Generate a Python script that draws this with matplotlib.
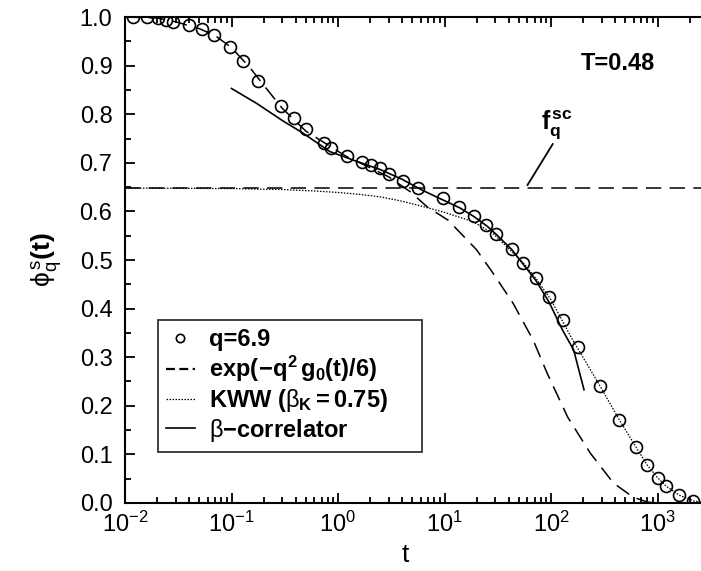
import matplotlib
matplotlib.use("Agg")
import matplotlib.pyplot as plt
from matplotlib.lines import Line2D
from matplotlib.ticker import LogLocator, MultipleLocator, NullFormatter

plt.rcParams["font.family"] = ["Liberation Sans", "DejaVu Sans"]
plt.rcParams["mathtext.fontset"] = "custom"
plt.rcParams["mathtext.rm"] = "Liberation Sans"
plt.rcParams["mathtext.it"] = "Liberation Sans:italic"
plt.rcParams["mathtext.bf"] = "Liberation Sans:bold"

# simulation points, q=6.9
t_sim = [0.012, 0.0162, 0.0203, 0.0243, 0.0284, 0.040, 0.0525, 0.0685, 0.097, 0.129,
         0.179, 0.290, 0.389, 0.501, 0.743, 0.86, 1.21, 1.67, 2.05, 2.48, 3.03, 4.10,
         5.67, 9.6, 13.8, 19.0, 24.5, 30.5, 42.8, 54.2, 72.3, 96.4, 130.5, 178, 288,
         438, 624, 802, 1004, 1194, 1603, 2168]
phi_sim = [1.0, 1.0, 0.997, 0.994, 0.990, 0.984, 0.975, 0.963, 0.938, 0.909,
           0.868, 0.817, 0.793, 0.769, 0.741, 0.731, 0.714, 0.702, 0.695, 0.689, 0.678, 0.663,
           0.648, 0.627, 0.610, 0.591, 0.572, 0.553, 0.522, 0.494, 0.462, 0.424, 0.377, 0.320, 0.241,
           0.171, 0.116, 0.078, 0.052, 0.035, 0.016, 0.004]

# gaussian approximation exp(-q^2 g0(t)/6)
t_gauss = [0.01, 0.02, 0.03, 0.05, 0.07, 0.1, 0.15, 0.2, 0.3, 0.5, 0.8, 1.2, 2.0, 3.0,
           4.8, 6.9, 10.8, 20, 28.5, 44, 68, 92, 143, 233, 385, 590, 800, 1000]
phi_gauss = [1.0, 0.998, 0.99, 0.976, 0.962, 0.937, 0.895, 0.860, 0.812, 0.765, 0.737, 0.713, 0.690, 0.671,
             0.640, 0.609, 0.582, 0.521, 0.473, 0.411, 0.335, 0.267, 0.177, 0.103, 0.041, 0.012, 0.002, 0.0]

# KWW fit, beta_K = 0.75
t_kww = [0.01, 0.1, 0.3, 0.6, 1.0, 1.6, 2.5, 4.0, 6.3, 10, 18.5, 28, 38.5, 55, 74, 100,
         160, 288, 438, 624, 800, 1000, 1200, 1600, 2200, 2560]
phi_kww = [0.648, 0.647, 0.645, 0.642, 0.639, 0.635, 0.630, 0.621, 0.610, 0.598, 0.579, 0.556, 0.527, 0.494, 0.459, 0.418,
           0.335, 0.241, 0.171, 0.116, 0.078, 0.052, 0.035, 0.016, 0.004, 0.002]

# beta-correlator
t_beta = [0.1, 0.173, 0.3, 0.47, 0.84, 1.5, 2.5, 4, 6, 10, 14, 19, 25, 30.5, 43, 54, 72, 96, 128, 163, 204]
phi_beta = [0.853, 0.822, 0.787, 0.761, 0.723, 0.703, 0.686, 0.666, 0.645, 0.622, 0.607, 0.589, 0.570, 0.553,
            0.521, 0.493, 0.458, 0.413, 0.356, 0.315, 0.233]

fq_sc = 0.648

x_ticks = [1e-2, 1e-1, 1e0, 1e1, 1e2, 1e3]
x_tick_labels = [r"$10^{-2}$", r"$10^{-1}$", r"$10^{0}$", r"$10^{1}$", r"$10^{2}$", r"$10^{3}$"]

fig = plt.figure(figsize=(7.01, 5.71), dpi=100)
ax = fig.add_axes([0.1783, 0.1191, 0.8217, 0.8511])

ax.axhline(fq_sc, color="black", lw=1.1, dashes=(10, 5.5))
ax.plot(t_gauss, phi_gauss, color="black", lw=1.1, dashes=(10, 5.5))
ax.plot(t_kww, phi_kww, color="black", lw=0.9, dashes=(1.2, 1.2))
ax.plot(t_beta, phi_beta, color="black", lw=1.2)
ax.plot(t_sim, phi_sim, "o", color="black", mfc="none", ms=8.6, mew=1.2)

ax.set_xscale("log")
ax.set_xlim(1e-2, 2558)
ax.set_ylim(0.0, 1.0)
ax.set_xticks(x_ticks)
ax.set_xticklabels(x_tick_labels)
ax.xaxis.set_minor_locator(LogLocator(base=10, subs=range(2, 10), numticks=20))
ax.xaxis.set_minor_formatter(NullFormatter())
ax.yaxis.set_major_locator(MultipleLocator(0.1))
ax.yaxis.set_minor_locator(MultipleLocator(0.05))
ax.set_yticklabels(["%.1f" % v for v in ax.get_yticks()])

ax.tick_params(which="both", direction="in", top=True, right=False, labelsize=17, width=1.3)
ax.tick_params(which="major", length=7)
ax.tick_params(which="minor", length=4)
ax.tick_params(axis="y", pad=9)
ax.tick_params(axis="x", pad=6)
for side in ["left", "bottom", "top"]:
    ax.spines[side].set_linewidth(1.5)
ax.spines["right"].set_visible(False)

ax.set_xlabel("t", fontsize=19)
ax.xaxis.set_label_coords(0.486, -0.082)
ax.set_ylabel(r"$\mathrm{\phi}_\mathrm{q}^{\,\mathrm{s}}\mathbf{(t)}$", fontsize=19)
ax.yaxis.set_label_coords(-0.105, 0.5)

ax.text(0.856, 0.905, "T=0.48", transform=ax.transAxes, ha="center", va="center",
        fontsize=17, fontweight="bold")
ax.text(114, 0.776, r"$\mathbf{f_q^{\,sc}}$", ha="center", va="center", fontsize=18)
ax.annotate("", xy=(60, 0.654), xytext=(104, 0.739),
            arrowprops=dict(arrowstyle="-", lw=1.3, color="black", shrinkA=0, shrinkB=0))

# legend handles (style only)
leg_handles = [
    Line2D([], [], ls="none", marker="o", color="black", mfc="none", ms=6, mew=1.2),
    Line2D([], [], color="black", lw=1.6, dashes=(4, 2)),
    Line2D([], [], color="black", lw=0.9, dashes=(1.2, 1.2)),
    Line2D([], [], color="black", lw=1.2),
]
leg_labels = ["q=6.9",
              r"$\mathbf{exp(\!-\!q^2\,g_0(t)/6)}$",
              r"$\mathbf{KWW\ (}\mathrm{\beta}_\mathbf{K}\mathbf{=0.75)}$",
              r"$\mathrm{\beta}\mathbf{-correlator}$"]
leg = ax.legend(leg_handles, leg_labels,
                loc="lower left", bbox_to_anchor=(0.0573, 0.105, 0.458, 0.0), mode="expand",
                borderaxespad=0, prop={"size": 17, "weight": "bold"}, frameon=True,
                fancybox=False, edgecolor="black", handlelength=1.2, handletextpad=0.6,
                borderpad=0.35, labelspacing=0.12)
leg.get_frame().set_linewidth(1.3)

fig.savefig("out.png", dpi=100)
